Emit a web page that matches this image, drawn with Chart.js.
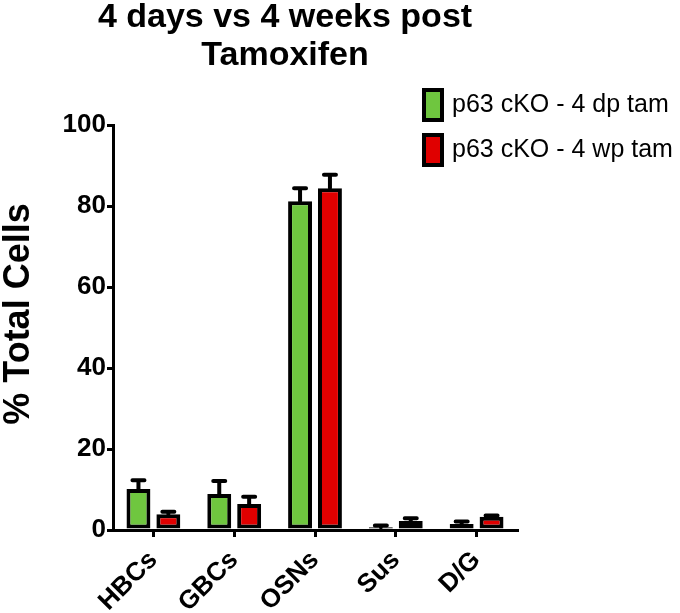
<!DOCTYPE html>
<html>
<head>
<meta charset="utf-8">
<script src="https://cdn.jsdelivr.net/npm/chart.js@4"></script>
<style>
  html, body { margin: 0; padding: 0; background: #fff; }
  #wrap { width: 680px; height: 613px; position: relative; }
</style>
</head>
<body>
<div id="wrap"><canvas id="grafico"></canvas></div>
<script>
const categorias = ['HBCs', 'GBCs', 'OSNs', 'Sus', 'D/G'];
const dias4 = [10.1, 8.9, 81.2, 0.7, 1.5];
const dias4Err = [2.2, 3.2, 3.2, 0.4, 0.6];
const semanas4 = [3.9, 6.4, 84.4, 2.2, 3.3];
const semanas4Err = [0.6, 1.8, 3.3, 0.7, 0.3];
const etiquetas = ['p63 cKO - 4 dp tam', 'p63 cKO - 4 wp tam'];
const titulo = ['4 days vs 4 weeks post', 'Tamoxifen'];
const tituloY = '% Total Cells';

const fuente = '"Liberation Sans", Arial, sans-serif';
const verde = '#6fc63f';
const rojo = '#e00000';

// barras de error (solo hacia arriba)
const errores = {
  id: 'errores',
  afterDatasetsDraw(chart) {
    const c = chart.ctx;
    const y = chart.scales.y;
    chart.data.datasets.forEach((ds, i) => {
      const meta = chart.getDatasetMeta(i);
      meta.data.forEach((bar, j) => {
        const top = y.getPixelForValue(ds.data[j] + ds.err[j]);
        c.save();
        c.strokeStyle = '#000';
        c.lineWidth = 4;
        c.lineCap = 'round';
        c.beginPath();
        c.moveTo(bar.x, bar.y);
        c.lineTo(bar.x, top);
        c.moveTo(bar.x - 6, top);
        c.lineTo(bar.x + 6, top);
        c.stroke();
        c.restore();
      });
    });
  }
};

// titulo, leyenda y titulo del eje
const textos = {
  id: 'textos',
  afterDraw(chart) {
    const c = chart.ctx;
    c.save();
    c.fillStyle = '#000';
    c.textAlign = 'center';
    c.textBaseline = 'middle';
    c.font = 'bold 34px ' + fuente;
    c.fillText(titulo[0], 285, 18);
    c.fillText(titulo[1], 285, 56);

    c.save();
    c.translate(19, 314);
    c.rotate(-Math.PI / 2);
    c.font = 'bold 36px ' + fuente;
    c.fillText(tituloY, 0, 0);
    c.restore();

    const colores = [verde, rojo];
    c.textAlign = 'left';
    c.font = '25px ' + fuente;
    etiquetas.forEach((t, i) => {
      const yy = 105 + i * 45;
      c.fillStyle = colores[i];
      c.strokeStyle = '#000';
      c.lineWidth = 4;
      c.fillRect(424, yy - 15, 18, 30);
      c.strokeRect(424, yy - 15, 18, 30);
      c.fillStyle = '#000';
      c.fillText(t, 452, yy);
    });
    c.restore();
  }
};

const ctx = document.getElementById('grafico').getContext('2d');
const myChart = new Chart(ctx, {
  type: 'bar',
  data: {
    labels: categorias,
    datasets: [{
      label: etiquetas[0],
      data: dias4,
      err: dias4Err,
      backgroundColor: verde,
      borderColor: '#000',
      borderWidth: 4,
      borderSkipped: false
    }, {
      label: etiquetas[1],
      data: semanas4,
      err: semanas4Err,
      backgroundColor: rojo,
      borderColor: '#000',
      borderWidth: 4,
      borderSkipped: false
    }]
  },
  options: {
    responsive: true,
    maintainAspectRatio: false,
    animation: false,
    datasets: { bar: { categoryPercentage: 0.74, barPercentage: 0.8 } },
    layout: { padding: { top: 125, right: 163, left: 0, bottom: 0 } },
    plugins: { legend: { display: false }, title: { display: false }, tooltip: { enabled: false } },
    scales: {
      x: {
        afterFit(s) { s.height = 83; },
        border: { color: '#000', width: 3 },
        grid: { drawOnChartArea: false, offset: false, color: '#000', lineWidth: 3, tickLength: 7 },
        ticks: {
          color: '#000',
          font: { family: fuente, size: 26, weight: 'bold' },
          minRotation: 45, maxRotation: 45, padding: 8
        }
      },
      y: {
        min: 0, max: 100,
        afterFit(s) { s.width = 113; },
        border: { color: '#000', width: 3 },
        grid: { drawOnChartArea: false, color: '#000', lineWidth: 3, tickLength: 6 },
        ticks: {
          stepSize: 20,
          color: '#000',
          font: { family: fuente, size: 26, weight: 'bold' },
          padding: 1
        }
      }
    }
  },
  plugins: [errores, textos]
});
</script>
</body>
</html>
